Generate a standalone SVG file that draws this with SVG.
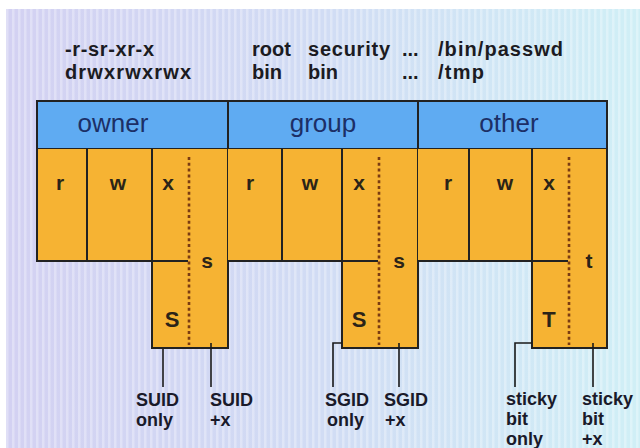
<svg xmlns="http://www.w3.org/2000/svg" width="640" height="448" viewBox="0 0 640 448">
  <defs>
    <linearGradient id="bg" x1="0" y1="0" x2="1" y2="0">
      <stop offset="0" stop-color="#d3d1f2"/>
      <stop offset="0.5" stop-color="#d1dcf4"/>
      <stop offset="1" stop-color="#d0eff6"/>
    </linearGradient>
    <pattern id="stripes" x="0" y="0" width="6" height="10" patternUnits="userSpaceOnUse">
      <rect x="0" y="0" width="2.5" height="10" fill="#ffffff" fill-opacity="0.3"/>
    </pattern>
    <style>
      .hdr { fill: #5fabf2; stroke: #222; stroke-width: 2; }
      .cell { fill: #f6b333; }
      .edge { fill: none; stroke: #222; stroke-width: 2; stroke-linecap: square; }
      .dots { fill: none; stroke: #7a3b12; stroke-width: 2.6; stroke-dasharray: 3 2.8; }
      .conn { fill: none; stroke: #1a1a1a; stroke-width: 1.6; }
      .top { font-family: "Liberation Sans", Arial, sans-serif; font-weight: bold; font-size: 20px; fill: #1b1b22; }
      .ht { font-family: "Liberation Sans", Arial, sans-serif; font-size: 26px; fill: #1c2f66; text-anchor: middle; }
      .bit { font-family: "Liberation Sans", Arial, sans-serif; font-weight: bold; font-size: 21px; fill: #2b2418; text-anchor: middle; }
      .bitb { font-family: "Liberation Sans", Arial, sans-serif; font-weight: bold; font-size: 22px; fill: #2b2418; text-anchor: middle; }
      .lbl { font-family: "Liberation Sans", Arial, sans-serif; font-weight: bold; font-size: 18px; fill: #1a1a2a; }
    </style>
  </defs>

  <!-- background -->
  <rect x="0" y="0" width="640" height="448" fill="#ffffff"/>
  <rect x="6" y="9" width="634" height="439" fill="url(#bg)"/>
  <rect x="6" y="9" width="634" height="439" fill="url(#stripes)"/>

  <!-- top texts -->
  <g id="examples">
    <text class="top" x="65" y="56" textLength="89" lengthAdjust="spacing">-r-sr-xr-x</text>
    <text class="top" x="65" y="78.5" textLength="126" lengthAdjust="spacing">drwxrwxrwx</text>
    <text class="top" x="252" y="56">root</text>
    <text class="top" x="308" y="56" textLength="82" lengthAdjust="spacing">security</text>
    <text class="top" x="402" y="56">...</text>
    <text class="top" x="438" y="56" textLength="125" lengthAdjust="spacing">/bin/passwd</text>
    <text class="top" x="252" y="78.5">bin</text>
    <text class="top" x="308" y="78.5">bin</text>
    <text class="top" x="402" y="78.5">...</text>
    <text class="top" x="438" y="78.5" textLength="46" lengthAdjust="spacing">/tmp</text>
  </g>

  <!-- header -->
  <g id="owner">
    <rect class="hdr" x="37" y="101" width="191" height="48"/>
    <text class="ht" x="113" y="132">owner</text>
  </g>
  <g id="group">
    <rect class="hdr" x="228" y="101" width="190" height="48"/>
    <text class="ht" x="323" y="132">group</text>
  </g>
  <g id="other">
    <rect class="hdr" x="418" y="101" width="189" height="48"/>
    <text class="ht" x="509" y="132">other</text>
  </g>

  <!-- owner bits -->
  <g id="owner-bits">
    <rect class="cell" x="37" y="149" width="191" height="112"/>
    <rect class="cell" x="152" y="261" width="76" height="87"/>
    <path class="edge" d="M37 149 V261 H187 M87 149 V261 M152 149 V348 H228 M228 149 V348"/>
    <line class="dots" x1="189" y1="157" x2="189" y2="345"/>
    <text class="bit" x="60" y="190">r</text>
    <text class="bit" x="118" y="190">w</text>
    <text class="bit" x="168" y="190">x</text>
    <text class="bit" x="207" y="268">s</text>
    <text class="bitb" x="172" y="327">S</text>
  </g>

  <!-- group bits -->
  <g id="group-bits">
    <rect class="cell" x="228" y="149" width="190" height="112"/>
    <rect class="cell" x="342" y="261" width="76" height="87"/>
    <path class="edge" d="M228 261 H377 M282 149 V261 M342 149 V348 H418 M418 149 V348"/>
    <line class="dots" x1="379" y1="157" x2="379" y2="345"/>
    <text class="bit" x="250" y="190">r</text>
    <text class="bit" x="310" y="190">w</text>
    <text class="bit" x="359" y="190">x</text>
    <text class="bit" x="399" y="268">s</text>
    <text class="bitb" x="359" y="327">S</text>
  </g>

  <!-- other bits -->
  <g id="other-bits">
    <rect class="cell" x="418" y="149" width="189" height="112"/>
    <rect class="cell" x="532" y="261" width="75" height="87"/>
    <path class="edge" d="M418 261 H567 M469 149 V261 M532 149 V348 H607 M607 149 V348"/>
    <line class="dots" x1="569" y1="157" x2="569" y2="345"/>
    <text class="bit" x="448" y="190">r</text>
    <text class="bit" x="505" y="190">w</text>
    <text class="bit" x="549" y="190">x</text>
    <text class="bit" x="589" y="268">t</text>
    <text class="bitb" x="549" y="327">T</text>
  </g>

  <!-- connectors -->
  <g id="connectors">
    <path class="conn" d="M163 349 V387"/>
    <path class="conn" d="M211 343 V387"/>
    <path class="conn" d="M342 343 H333 V387"/>
    <path class="conn" d="M399 343 V387"/>
    <path class="conn" d="M532 343 H515 V387"/>
    <path class="conn" d="M593 343 V387"/>
  </g>

  <!-- labels -->
  <g id="labels">
    <text class="lbl" x="136" y="406">SUID</text>
    <text class="lbl" x="136" y="426">only</text>
    <text class="lbl" x="210" y="406">SUID</text>
    <text class="lbl" x="210" y="426">+x</text>
    <text class="lbl" x="325" y="406">SGID</text>
    <text class="lbl" x="327" y="426">only</text>
    <text class="lbl" x="384" y="406">SGID</text>
    <text class="lbl" x="385" y="426">+x</text>
    <text class="lbl" x="506" y="405">sticky</text>
    <text class="lbl" x="506" y="425">bit</text>
    <text class="lbl" x="506" y="445">only</text>
    <text class="lbl" x="582" y="405">sticky</text>
    <text class="lbl" x="582" y="425">bit</text>
    <text class="lbl" x="582" y="445">+x</text>
  </g>
</svg>
